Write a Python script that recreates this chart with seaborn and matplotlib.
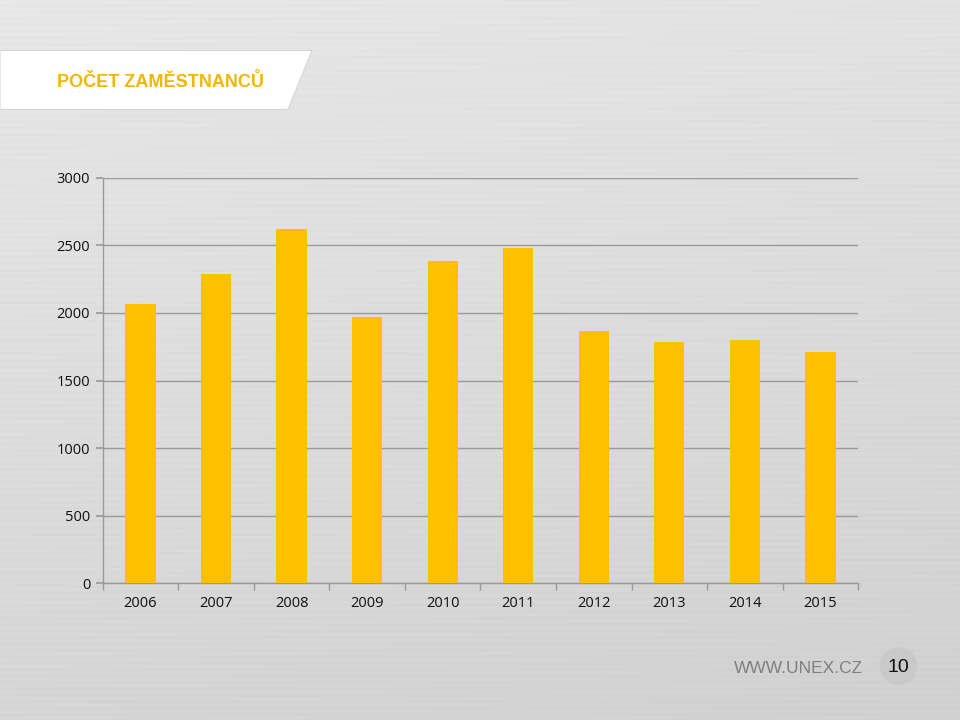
import matplotlib.pyplot as plt
import matplotlib.patches as mpatches
import numpy as np
import pandas as pd
import seaborn as sns

years = ["2006", "2007", "2008", "2009", "2010", "2011", "2012", "2013", "2014", "2015"]
employees = [2065, 2289, 2622, 1972, 2385, 2481, 1867, 1787, 1802, 1713]
y_ticks = [0, 500, 1000, 1500, 2000, 2500, 3000]

df = pd.DataFrame({"year": years, "employees": employees})

sns.set_theme(style="white")
plt.rcParams["font.family"] = ["Open Sans", "DejaVu Sans"]

fig = plt.figure(figsize=(9.6, 7.2), dpi=100)

## brushed metal background
bg = fig.add_axes([0, 0, 1, 1], zorder=0)
yy, xx = np.mgrid[0:1:360j, 0:1:480j]
shade = 0.905 - 0.07 * yy - 0.02 * xx + 0.006 * np.sin(yy * 700)
bg.imshow(shade, cmap="gray", vmin=0, vmax=1, extent=[0, 1, 0, 1], aspect="auto")
bg.set_xlim(0, 1)
bg.set_ylim(0, 1)
bg.axis("off")

## title banner
banner = mpatches.Polygon([[0, 0.930], [0.325, 0.930], [0.300, 0.848], [0, 0.848]],
                          closed=True, facecolor="white", edgecolor="#d5d5d5", lw=0.8)
bg.add_patch(banner)
bg.text(0.059, 0.886, "POČET ZAMĚSTNANCŮ", color="#F2B600", fontsize=13,
        fontweight="bold", va="center", ha="left", family=["Liberation Sans", "DejaVu Sans"])

## footer
bg.text(0.899, 0.071, "WWW.UNEX.CZ", color="#7f7f7f", fontsize=12.5, va="center",
        ha="right", family=["Liberation Sans", "DejaVu Sans"])
bg.add_patch(mpatches.Ellipse((0.936, 0.075), 0.039, 0.052, facecolor="#c9c9c9", edgecolor="none"))
bg.text(0.936, 0.073, "10", color="#111111", fontsize=14, va="center", ha="center",
        family=["Liberation Sans", "DejaVu Sans"])

## chart
ax = fig.add_axes([0.107, 0.190, 0.787, 0.563], zorder=1)
ax.patch.set_alpha(0)
sns.barplot(data=df, x="year", y="employees", color="#FFC000", saturation=1,
            width=0.4, linewidth=0, ax=ax, zorder=3)
ax.set_ylim(0, 3000)
ax.set_xlim(-0.5, len(years) - 0.5)
ax.set_yticks(y_ticks)
ax.yaxis.grid(True, color="#9a9a9a", lw=1, zorder=0)
ax.set_axisbelow(True)
ax.set_xlabel("")
ax.set_ylabel("")
for s in ["top", "right"]:
    ax.spines[s].set_visible(False)
for s in ["left", "bottom"]:
    ax.spines[s].set_color("#9a9a9a")
    ax.spines[s].set_linewidth(1)
ax.set_xticks(np.arange(-0.5, len(years)), minor=True)
ax.tick_params(axis="x", which="major", length=0, pad=9, labelsize=10.5, labelcolor="#111111")
ax.tick_params(axis="x", which="minor", length=5, color="#9a9a9a", direction="out", bottom=True)
ax.tick_params(axis="y", length=5, color="#9a9a9a", labelsize=10.5, labelcolor="#111111", left=True, pad=4)

fig.savefig("out.png", dpi=100)
